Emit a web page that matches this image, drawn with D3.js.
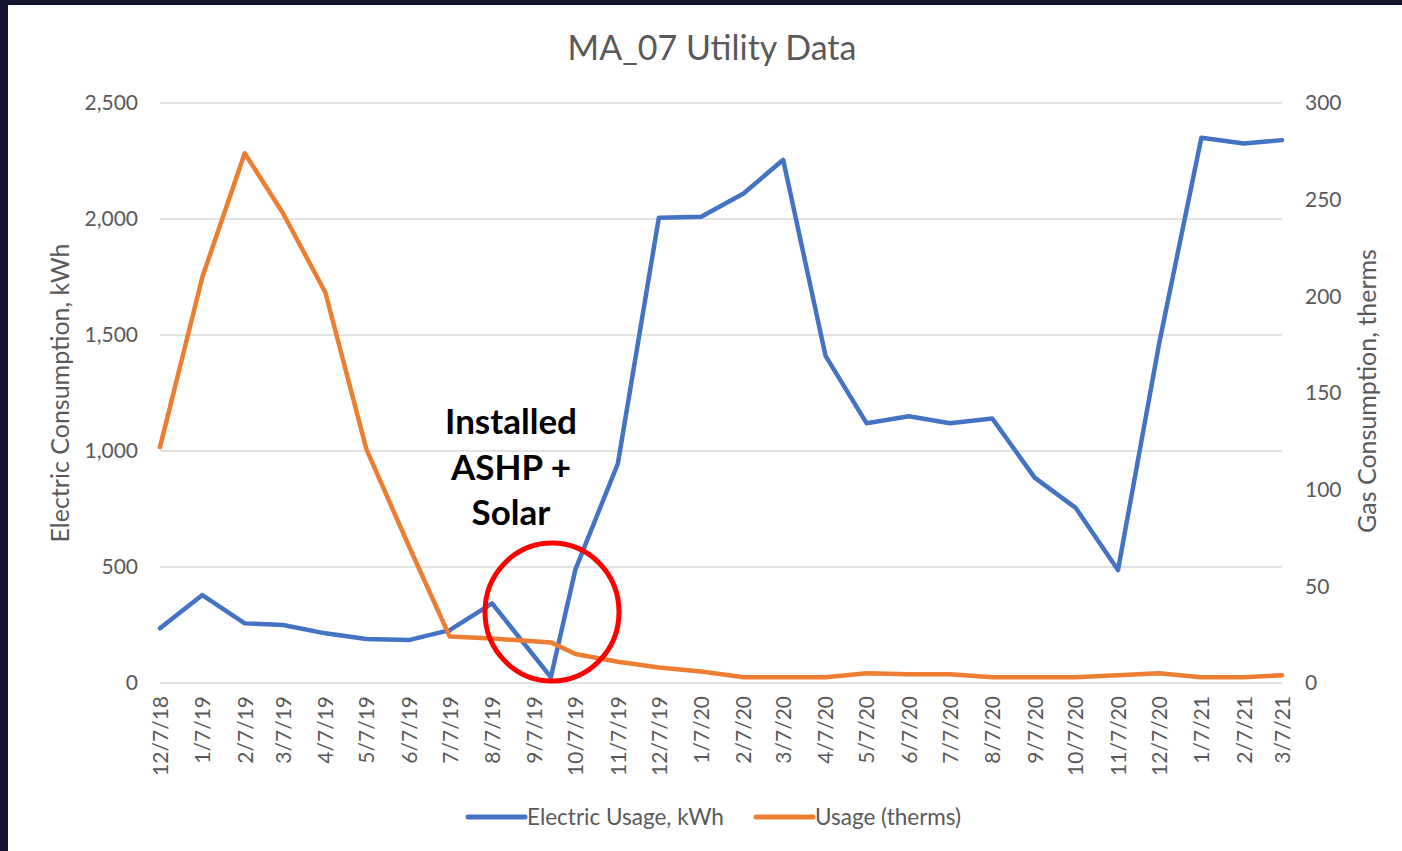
<!DOCTYPE html>
<html>
<head>
<meta charset="utf-8">
<script src="https://cdn.jsdelivr.net/npm/d3@7"></script>
<style>
  html, body { margin: 0; padding: 0; background: #15152f; }
  svg { display: block; }
</style>
</head>
<body>
<svg id="chart" width="1402" height="851"></svg>
<script>
// Billing dates (one reading per month; the September 2019 bill was read late)
const readDates = ["12/7/18","1/7/19","2/7/19","3/7/19","4/7/19","5/7/19","6/7/19","7/7/19",
  "8/7/19","9/19/19","10/7/19","11/7/19","12/7/19","1/7/20","2/7/20","3/7/20","4/7/20",
  "5/7/20","6/7/20","7/7/20","8/7/20","9/7/20","10/7/20","11/7/20","12/7/20","1/7/21",
  "2/7/21","3/7/21"];

// Electric usage, kWh
const electricKWh = [236, 379, 257, 250, 214, 190, 185, 228, 343, 25, 490, 945, 2005, 2010,
  2110, 2255, 1410, 1120, 1150, 1120, 1140, 885, 755, 487, 1460, 2350, 2325, 2340];

// Gas usage, therms
const gasTherms = [122, 210, 274, 243, 202, 121, 71, 24, 23, 21, 15, 11, 8, 6,
  3, 3, 3, 5, 4.5, 4.5, 3, 3, 3, 4, 5, 3, 3, 4];

// Axis tick labels
const xTickLabels = ["12/7/18","1/7/19","2/7/19","3/7/19","4/7/19","5/7/19","6/7/19","7/7/19",
  "8/7/19","9/7/19","10/7/19","11/7/19","12/7/19","1/7/20","2/7/20","3/7/20","4/7/20",
  "5/7/20","6/7/20","7/7/20","8/7/20","9/7/20","10/7/20","11/7/20","12/7/20","1/7/21",
  "2/7/21","3/7/21"];
const leftTicks = [0, 500, 1000, 1500, 2000, 2500];
const rightTicks = [0, 50, 100, 150, 200, 250, 300];

(function draw() {
  const parse = d3.timeParse("%m/%d/%y");
  const fmt = d3.timeFormat("%-m/%-d/%y");
  const dates = readDates.map(parse);
  const tickDates = xTickLabels.map(parse);

  const svg = d3.select("#chart");
  const font = "Lato, 'Open Sans', sans-serif";
  const textGray = "#595959";

  // white chart panel
  svg.append("rect").attr("x", 8).attr("y", 5).attr("width", 1394).attr("height", 846)
    .attr("fill", "#ffffff");

  const plotL = 160, plotR = 1282, plotT = 103, plotB = 683;

  const x = d3.scaleTime().domain([tickDates[0], tickDates[tickDates.length - 1]]).range([plotL, plotR]);
  const yL = d3.scaleLinear().domain([0, 2500]).range([plotB, plotT]);
  const yR = d3.scaleLinear().domain([0, 300]).range([plotB, plotT]);

  // gridlines
  svg.append("g").selectAll("line").data(leftTicks).join("line")
    .attr("x1", plotL).attr("x2", plotR)
    .attr("y1", d => yL(d)).attr("y2", d => yL(d))
    .attr("stroke", "#d9d9d9").attr("stroke-width", 1.5);

  // left axis
  const axL = svg.append("g").attr("transform", `translate(${plotL - 22},0)`)
    .call(d3.axisLeft(yL).tickValues(leftTicks).tickFormat(d3.format(",")).tickSize(0).tickPadding(0));
  axL.select(".domain").remove();
  axL.selectAll("text").attr("font-family", font).attr("font-size", 21).attr("fill", textGray);

  // right axis
  const axR = svg.append("g").attr("transform", `translate(${plotR + 23},0)`)
    .call(d3.axisRight(yR).tickValues(rightTicks).tickSize(0).tickPadding(0));
  axR.select(".domain").remove();
  axR.selectAll("text").attr("font-family", font).attr("font-size", 21).attr("fill", textGray);

  // bottom axis with rotated date labels
  const axB = svg.append("g").attr("transform", `translate(0,${plotB + 13})`)
    .call(d3.axisBottom(x).tickValues(tickDates).tickFormat(fmt).tickSize(0).tickPadding(0));
  axB.select(".domain").remove();
  axB.selectAll("text")
    .attr("font-family", font).attr("font-size", 21).attr("fill", textGray)
    .attr("text-anchor", "end").attr("dy", "0.35em").attr("y", 0)
    .attr("transform", "rotate(-90)");

  // axis titles
  svg.append("text").attr("transform", "translate(69,393) rotate(-90)")
    .attr("text-anchor", "middle").attr("font-family", font).attr("font-size", 25)
    .attr("fill", textGray).text("Electric Consumption, kWh");
  svg.append("text").attr("transform", "translate(1376,391) rotate(-90)")
    .attr("text-anchor", "middle").attr("font-family", font).attr("font-size", 25)
    .attr("fill", textGray).text("Gas Consumption, therms");

  // title
  svg.append("text").attr("x", 712).attr("y", 60).attr("text-anchor", "middle")
    .attr("font-family", font).attr("font-size", 34).attr("fill", textGray)
    .text("MA_07 Utility Data");

  // series lines
  const blue = "#4472c4", orange = "#ed7d31";
  const lineL = d3.line().x((d, i) => x(dates[i])).y(d => yL(d));
  const lineR = d3.line().x((d, i) => x(dates[i])).y(d => yR(d));

  svg.append("path").datum(electricKWh).attr("d", lineL)
    .attr("fill", "none").attr("stroke", blue).attr("stroke-width", 4.5)
    .attr("stroke-linejoin", "round").attr("stroke-linecap", "round");
  svg.append("path").datum(gasTherms).attr("d", lineR)
    .attr("fill", "none").attr("stroke", orange).attr("stroke-width", 4.5)
    .attr("stroke-linejoin", "round").attr("stroke-linecap", "round");

  // annotation
  const note = svg.append("text").attr("text-anchor", "middle")
    .attr("font-family", font).attr("font-size", 35).attr("font-weight", "bold").attr("fill", "#000");
  ["Installed", "ASHP +", "Solar"].forEach((t, i) => {
    note.append("tspan").attr("x", 511).attr("y", 434 + i * 45.5).text(t);
  });
  svg.append("ellipse").attr("cx", 552).attr("cy", 612).attr("rx", 67).attr("ry", 69)
    .attr("fill", "none").attr("stroke", "#ff0000").attr("stroke-width", 5);

  // legend
  const legend = [
    { label: "Electric Usage, kWh", color: blue, x: 468 },
    { label: "Usage (therms)", color: orange, x: 756 }
  ];
  const lg = svg.append("g").selectAll("g").data(legend).join("g")
    .attr("transform", d => `translate(${d.x},817)`);
  lg.append("line").attr("x1", 0).attr("x2", 57).attr("y1", 0).attr("y2", 0)
    .attr("stroke", d => d.color).attr("stroke-width", 5).attr("stroke-linecap", "round");
  lg.append("text").attr("x", 59).attr("dy", "0.35em")
    .attr("font-family", font).attr("font-size", 22.5).attr("fill", textGray)
    .text(d => d.label);
})();
</script>
</body>
</html>
